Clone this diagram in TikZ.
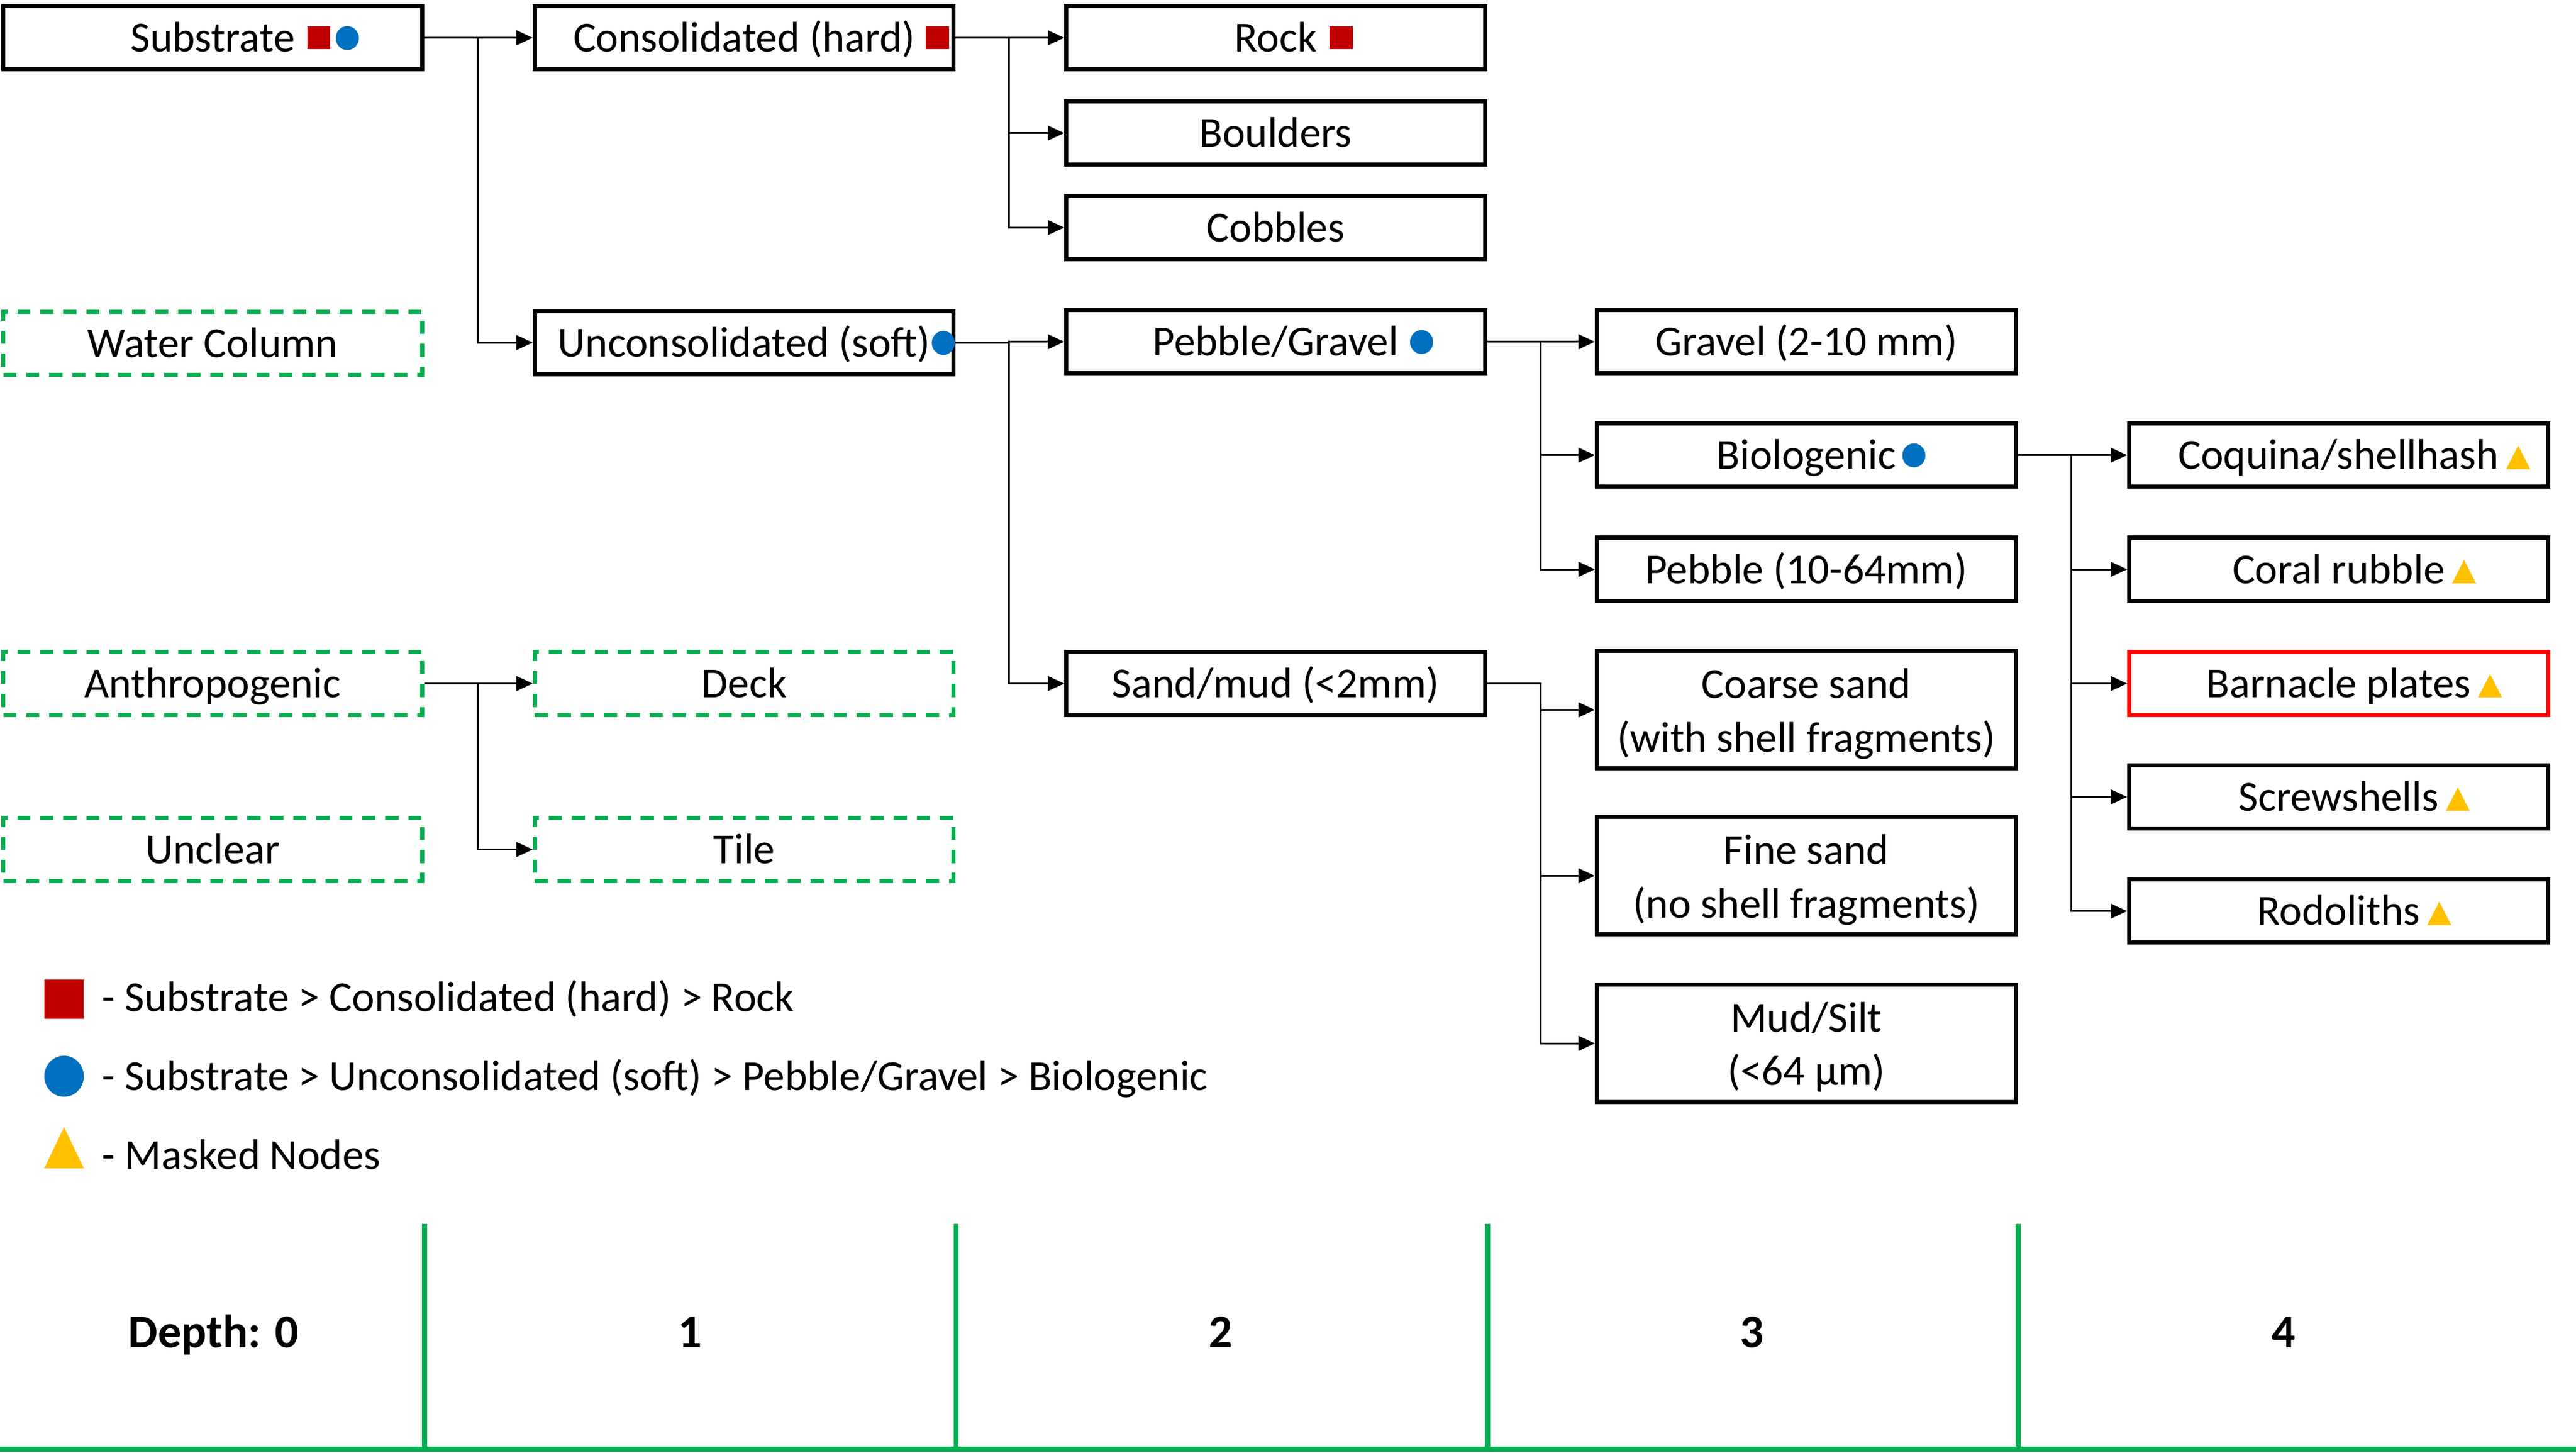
\documentclass[tikz,border=0pt]{standalone}
\usepackage{fontspec}
\setmainfont{Carlito}
\usetikzlibrary{arrows.meta}
\definecolor{markred}{HTML}{C00000}
\definecolor{markblue}{HTML}{0070C0}
\definecolor{markyellow}{HTML}{FFC000}
\definecolor{depthgreen}{HTML}{00B050}
\definecolor{flagred}{HTML}{FF0000}
\tikzset{>={Triangle[length=10pt,width=9pt]}}
\tikzset{
  tree/.style = {line width=2.5pt, minimum width=255pt, inner sep=0pt,
    font=\fontsize{26}{32.5}\selectfont},
  box/.style = {tree, draw, minimum height=38.5pt, text height=17pt, text depth=0pt},
  tallbox/.style = {tree, draw, minimum height=71.5pt, align=center,
    text height=51pt, text depth=0pt},
  flagbox/.style = {box, draw=flagred},
  other/.style = {box, draw=depthgreen, dash pattern=on 8pt off 6pt},
  link/.style = {->, line width=1pt},
  legend/.style = {anchor=base west, inner sep=0pt, font=\fontsize{26}{31.5}\selectfont},
  depth/.style = {inner sep=0pt, text height=18.4pt, text depth=0pt,
    font=\fontsize{28.5}{34}\selectfont\bfseries},
  rule/.style = {depthgreen, line width=3pt}
}
\newcommand{\hardmark}{\tikz[baseline=0pt]\fill[markred] (0,0.06em) rectangle (0.54em,0.59em);}
\newcommand{\softmark}{\tikz[baseline=0pt]\fill[markblue] (0.27em,0.32em) ellipse [x radius=0.27em, y radius=0.28em];}
\newcommand{\maskmark}{\tikz[baseline=0pt]\fill[markyellow] (0,0) -- (0.56em,0) -- (0.28em,0.55em) -- cycle;}

\begin{document}
\begin{tikzpicture}[x=1pt,y=-1pt]
  \useasboundingbox (0,0) rectangle (1568,884.3);
  % depth 0
  \node[box] (sub) at (129.5,23) {Substrate\rlap{\hspace{0.29em}\hardmark\hspace{0.13em}\softmark}};
  \node[other] (water) at (129.5,209) {Water Column};
  \node[other] (anthro) at (129.5,416) {Anthropogenic};
  \node[other] (unclear) at (129.5,517) {Unclear};
  % depth 1
  \node[box] (hard) at (453,23) {Consolidated (hard)\rlap{\hspace{0.25em}\hardmark}};
  \node[box] (soft) at (453,208.5) {Unconsolidated (soft)\rlap{\hspace{0.03em}\softmark}};
  \node[other] (deck) at (453,416) {Deck};
  \node[other] (tile) at (453,517) {Tile};
  % depth 2
  \node[box] (rock) at (776.5,23) {Rock\rlap{\hspace{0.3em}\hardmark}};
  \node[box] (boulders) at (776.5,81) {Boulders};
  \node[box] (cobbles) at (776.5,138.5) {Cobbles};
  \node[box] (pebgrav) at (776.5,208) {Pebble/Gravel\rlap{\hspace{0.27em}\softmark}};
  \node[box] (sandmud) at (776.5,416) {Sand/mud (<2mm)};
  % depth 3
  \node[box] (gravel) at (1099.5,208) {Gravel (2-10 mm)};
  \node[box] (biogenic) at (1099.5,277) {Biologenic\rlap{\hspace{0.15em}\softmark}};
  \node[box] (pebble) at (1099.5,346.5) {Pebble (10-64mm)};
  \node[tallbox] (coarse) at (1099.5,432) {Coarse sand\\(with shell fragments)};
  \node[tallbox] (fine) at (1099.5,533) {Fine sand\\(no shell fragments)};
  \node[tallbox] (mud) at (1099.5,635) {Mud/Silt\\(<64 µm)};
  % depth 4
  \node[box] (coquina) at (1423.5,277) {Coquina/shellhash\rlap{\hspace{0.17em}\maskmark}};
  \node[box] (coral) at (1423.5,346.5) {Coral rubble\rlap{\hspace{0.17em}\maskmark}};
  \node[flagbox] (barnacle) at (1423.5,416) {Barnacle plates\rlap{\hspace{0.17em}\maskmark}};
  \node[box] (screw) at (1423.5,485) {Screwshells\rlap{\hspace{0.17em}\maskmark}};
  \node[box] (rodo) at (1423.5,554.5) {Rodoliths\rlap{\hspace{0.17em}\maskmark}};
  % links
  \foreach \p/\c in {sub/hard,sub/soft,hard/rock,hard/boulders,hard/cobbles,
    soft/pebgrav,soft/sandmud,pebgrav/gravel,pebgrav/biogenic,pebgrav/pebble,
    sandmud/coarse,sandmud/fine,sandmud/mud,biogenic/coquina,biogenic/coral,
    biogenic/barnacle,biogenic/screw,biogenic/rodo,anthro/deck,anthro/tile}
    \draw[link] (\p.east) -- ++(32.5,0) |- (\c.west);
  % legend
  \fill[markred] (27,596) rectangle (51,620);
  \fill[markblue] (39,655) ellipse [x radius=12pt, y radius=12.5pt];
  \fill[markyellow] (27,711) -- (51,711) -- (39,686) -- cycle;
  \node[legend] (keyhard) at (62,615.5) {- Substrate > Consolidated (hard) > Rock};
  \node[legend] (keysoft) at (62,663.5) {- Substrate > Unconsolidated (soft) > Pebble/Gravel > Biologenic};
  \node[legend] (keymask) at (62,711.5) {- Masked Nodes};
  % depth scale
  \foreach \x in {258.5,582,905.5,1228.5}
    \draw[rule] (\x,745) -- (\x,882);
  \draw[rule] (0,882) -- (1568,882);
  \node[depth] (d0) at (130,811) {Depth: 0};
  \node[depth] (d1) at (420,811) {1};
  \node[depth] (d2) at (743,811) {2};
  \node[depth] (d3) at (1066.5,811) {3};
  \node[depth] (d4) at (1390,811) {4};
\end{tikzpicture}
\end{document}
